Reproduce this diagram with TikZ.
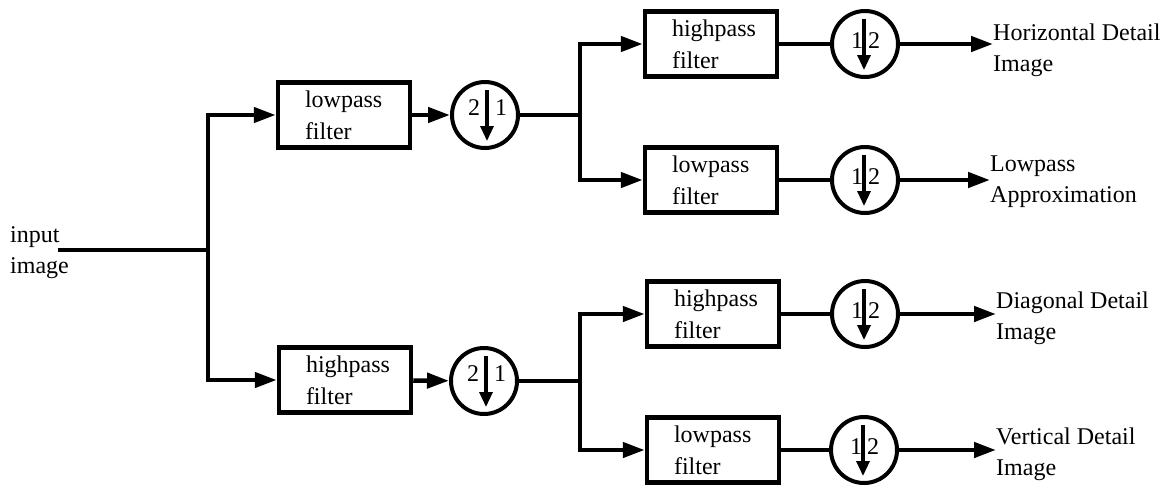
\documentclass[tikz,border=0pt]{standalone}
\usepackage{fontspec}
\setmainfont{Liberation Serif}
\newfontfamily\tms{Liberation Serif}
\usetikzlibrary{arrows.meta}
\begin{document}
\begin{tikzpicture}[x=1pt,y=-1pt,
  every node/.style={font=\tms\fontsize{24}{32}\selectfont},
  fbox/.style={draw,line width=4.5pt,minimum width=132pt,minimum height=65pt,text width=78pt,align=left,inner sep=0pt},
  dsc/.style={draw,circle,line width=4pt,minimum size=66pt,inner sep=0pt},
  wire/.style={line width=4.5pt},
  arr/.style={wire,-{Triangle[length=22pt,width=15pt]}},
  darr/.style={line width=3.2pt,-{Triangle[length=15pt,width=13pt]}},
  lbl/.style={anchor=west,align=left,inner sep=0pt,font=\tms\fontsize{24}{31}\selectfont},
  dig/.style={inner sep=0pt}]
\useasboundingbox (0,0) rectangle (1172,488);

% input
\node[lbl] (inp) at (10,253) {input\\image};
\coordinate (st) at (58,250);
\coordinate (j1) at (208,250);

% first stage
\node[fbox] (b1) at (344,115) {lowpass\\filter};
\node[fbox] (b2) at (345,380) {highpass\\filter};
\node[dsc] (c1) at (485,115) {};
\node[dsc] (c2) at (484,381) {};

% second stage
\coordinate (j2) at (580,115);
\coordinate (j3) at (580,381);
\node[fbox] (b3) at (711,44) {highpass\\filter};
\node[fbox] (b4) at (711,180) {lowpass\\filter};
\node[fbox] (b5) at (713,314) {highpass\\filter};
\node[fbox] (b6) at (713,450) {lowpass\\filter};
\node[dsc] (c3) at (865,44) {};
\node[dsc] (c4) at (865,180) {};
\node[dsc] (c5) at (865,314) {};
\node[dsc] (c6) at (864,450) {};

% outputs
\node[lbl] (o1) at (993,50) {Horizontal Detail\\Image};
\node[lbl] (o2) at (990,182) {Lowpass\\Approximation};
\node[lbl] (o3) at (996,318) {Diagonal Detail\\Image};
\node[lbl] (o4) at (996,454) {Vertical Detail\\Image};

% wires
\draw[wire] (st) -- (j1);
\draw[arr] (j1) |- (b1.west);
\draw[arr] (j1) |- (b2.west);
\draw[arr] (b1) -- (c1);
\draw[arr] (b2) -- (c2);
\draw[wire] (c1) -- (j2);
\draw[wire] (c2) -- (j3);
\draw[arr] (j2) |- (b3.west);
\draw[arr] (j2) |- (b4.west);
\draw[arr] (j3) |- (b5.west);
\draw[arr] (j3) |- (b6.west);
\draw[wire] (b3) -- (c3);
\draw[wire] (b4) -- (c4);
\draw[wire] (b5) -- (c5);
\draw[wire] (b6) -- (c6);
\draw[arr] (c3) -- (o1.west |- c3);
\draw[arr] (c4) -- (o2.west |- c4);
\draw[arr] (c5) -- (o3.west |- c5);
\draw[arr] (c6) -- (o4.west |- c6);

% downsampler contents
\foreach \c in {c1,c2}{
  \draw[darr] ([xshift=2pt,yshift=25pt]\c.center) -- ([xshift=2pt,yshift=-26pt]\c.center);
  \node[dig] at ([xshift=-11pt,yshift=7pt]\c.center) {2};
  \node[dig] at ([xshift=16pt,yshift=7pt]\c.center) {1};
}
\foreach \c in {c3,c4,c5,c6}{
  \draw[darr] ([xshift=-1pt,yshift=25pt]\c.center) -- ([xshift=-1pt,yshift=-26pt]\c.center);
  \node[dig] at ([xshift=-8pt,yshift=3pt]\c.center) {1};
  \node[dig] at ([xshift=9pt,yshift=3pt]\c.center) {2};
}
\end{tikzpicture}
\end{document}
